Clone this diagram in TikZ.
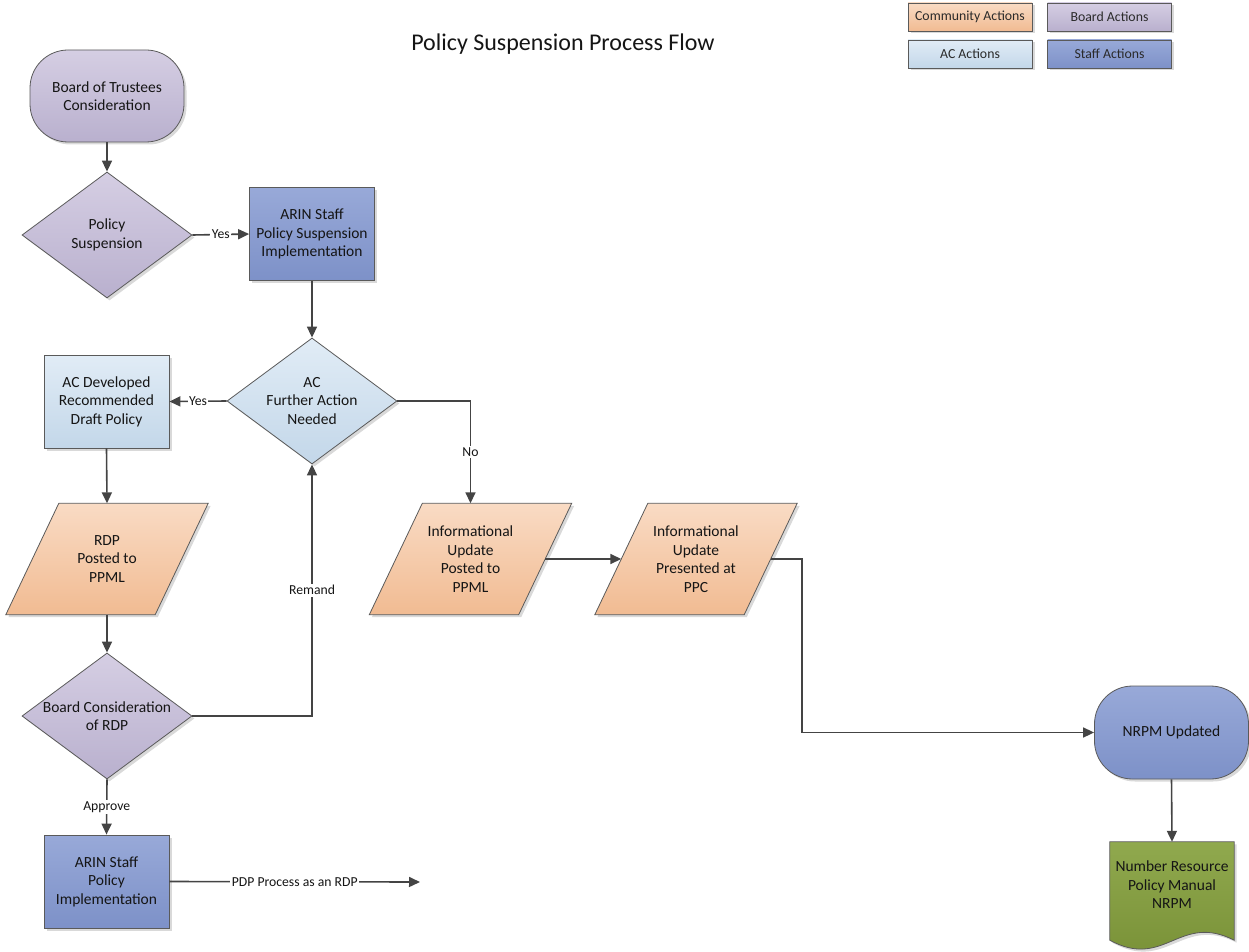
\documentclass[tikz,border=0pt]{standalone}
\usepackage{fontspec}
\setmainfont{Carlito}
\usetikzlibrary{shapes.geometric,arrows.meta,shadows,backgrounds,calc}
\definecolor{bordc}{HTML}{5A5A5A}
\definecolor{linec}{HTML}{444444}
\definecolor{txt}{HTML}{151515}
\definecolor{txtl}{HTML}{2A2A2A}
\definecolor{commT}{HTML}{F9DBC4}
\definecolor{commB}{HTML}{F1BB92}
\definecolor{boardT}{HTML}{D5CEE3}
\definecolor{boardB}{HTML}{B9B0CE}
\definecolor{acT}{HTML}{E1ECF6}
\definecolor{acB}{HTML}{C3D7E9}
\definecolor{staffT}{HTML}{98A9D8}
\definecolor{staffB}{HTML}{7D91C8}
\definecolor{docT}{HTML}{90A94E}
\definecolor{docB}{HTML}{778F35}
\tikzset{
  base/.style={draw=bordc, line width=0.8pt, font=\fontsize{15.5}{18.5}\selectfont, text=txt, align=center, inner sep=2pt},
  shadowed/.style={drop shadow={shadow xshift=2.5pt,shadow yshift=-2.5pt,opacity=0.3,fill=black!50}},
  boardfill/.style={top color=boardT,bottom color=boardB},
  commfill/.style={top color=commT,bottom color=commB},
  acfill/.style={top color=acT,bottom color=acB},
  stafffill/.style={top color=staffT,bottom color=staffB},
  docfill/.style={top color=docT,bottom color=docB},
  procbox/.style={base, shadowed, rectangle, minimum width=125pt, minimum height=93pt},
  termbox/.style={base, shadowed, rectangle, rounded corners=38pt, minimum width=154pt, minimum height=92pt},
  decision/.style={base, shadowed, diamond, minimum width=170pt, minimum height=126pt, inner sep=0pt},
  paraframe/.style={rectangle, minimum width=149pt, minimum height=111pt, inner sep=0pt, font=\fontsize{15.5}{18.5}\selectfont, text=txt, align=center},
  parashape/.style={draw=bordc, line width=0.8pt, commfill, shadowed},
  docframe/.style={rectangle, minimum width=124pt, minimum height=98pt, inner sep=0pt},
  docshape/.style={draw=bordc, line width=0.8pt, docfill, shadowed},
  flowarrow/.style={draw=linec, line width=1.6pt, -{Triangle[length=11pt,width=10pt]}},
  lbl/.style={fill=white, font=\fontsize{13.7}{16}\selectfont, inner sep=1.5pt, text=txt},
  legendbox/.style={base, shadowed, rectangle, minimum width=124pt, minimum height=28pt, font=\fontsize{13.8}{16}\selectfont, text=txtl},
  centertext/.style={align=center, font=\fontsize{15.5}{18.5}\selectfont, text=txt},
}
\begin{document}
\begin{tikzpicture}[x=1pt,y=-1pt]
\useasboundingbox (0,0) rectangle (1249,952);

% title
\node[font=\fontsize{24}{28}\selectfont, text=txt] (title) at (563,44) {Policy Suspension Process Flow};

% legend
\node[legendbox, commfill] (lgcomm) at (970,17) {Community Actions};
\node[legendbox, boardfill] (lgboard) at (1109.5,17) {Board Actions};
\node[legendbox, acfill] (lgac) at (970,54) {AC Actions};
\node[legendbox, stafffill] (lgstaff) at (1109.5,54) {Staff Actions};

% main nodes
\node[termbox, boardfill] (bot) at (107,96) {Board of Trustees\\Consideration};
\node[decision, boardfill, label={[centertext]center:Policy\\Suspension}] (ps) at (107,235) {};
\node[procbox, stafffill] (staff1) at (312,234) {ARIN Staff\\Policy Suspension\\Implementation};
\node[decision, acfill, label={[centertext]center:AC\\Further Action\\Needed}] (acd) at (312,401) {};
\node[procbox, acfill] (acdev) at (106.5,401.5) {AC Developed\\Recommended\\Draft Policy};
\node[paraframe] (rdp) at (107,559) {RDP\\Posted to\\PPML};
\node[decision, boardfill, label={[centertext]center:Board Consideration\\of RDP}] (bcr) at (107,716) {};
\node[procbox, stafffill] (staff2) at (106.5,881.5) {ARIN Staff\\Policy\\Implementation};
\coordinate (pdpend) at (420,882);
\node[paraframe] (info1) at (470.5,559) {Informational\\Update\\Posted to\\PPML};
\node[paraframe] (info2) at (696,559) {Informational\\Update\\Presented at\\PPC};
\node[termbox, stafffill, minimum height=93pt] (nrpm) at (1171.5,732.5) {NRPM Updated};
\node[docframe, label={[centertext, yshift=6pt]center:Number Resource\\Policy Manual\\NRPM}] (doc) at (1172,891) {};

% background shapes
\begin{scope}[on background layer]
\foreach \n in {rdp,info1,info2}{
  \path[parashape] ($(\n.north west)+(26.5,0)$) -- ($(\n.north east)+(26.5,0)$) -- ($(\n.south east)+(-26.5,0)$) -- ($(\n.south west)+(-26.5,0)$) -- cycle;
}
\path[docshape] (doc.north west) -- (doc.north east) -- (doc.south east)
  .. controls ($(doc.south east)+(-55,-28)$) and ($(doc.south west)+(55,30)$) .. (doc.south west) -- cycle;
\end{scope}

% connectors
\draw[flowarrow] (bot.south) -- (ps.north);
\draw[flowarrow] (ps.east) -- node[lbl] {Yes} (staff1.west);
\draw[flowarrow] (staff1.south) -- (acd.north);
\draw[flowarrow] (acd.west) -- node[lbl] {Yes} (acdev.east);
\draw[flowarrow] (acd.east) -| node[lbl, pos=0.75] {No} (info1.north);
\draw[flowarrow] (acdev.south) -- (rdp.north);
\draw[flowarrow] (rdp.south) -- (bcr.north);
\draw[flowarrow] (bcr.east) -| node[lbl, pos=0.75] {Remand} (acd.south);
\draw[flowarrow] (bcr.south) -- node[lbl] {Approve} (staff2.north);
\draw[flowarrow] (staff2.east) -- node[lbl] {PDP Process as an RDP} (pdpend);
\draw[flowarrow] (info1.east) -- (info2.west);
\draw[flowarrow] (info2.east) -- ++(31,0) |- (nrpm.west);
\draw[flowarrow] (nrpm.south) -- (doc.north);
\end{tikzpicture}
\end{document}
